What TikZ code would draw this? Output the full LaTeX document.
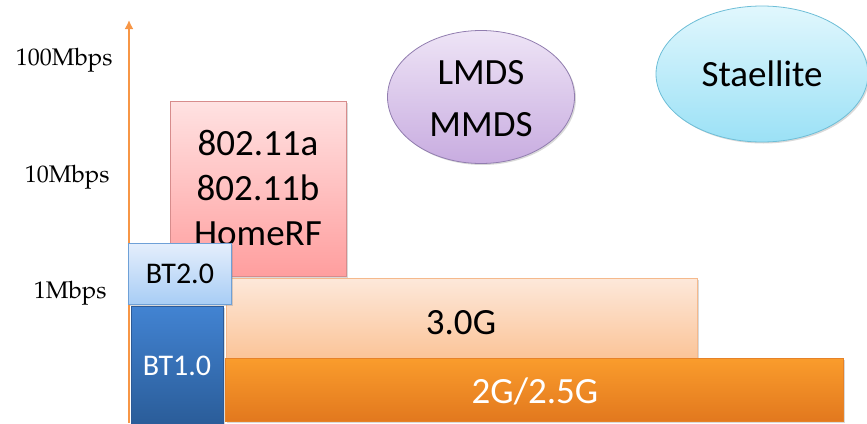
\documentclass[tikz,border=0pt]{standalone}
\usepackage{fontspec}
\setmainfont{TeX Gyre Pagella}
\newfontfamily\calfont{Carlito}
\usetikzlibrary{shapes.geometric,shadows,arrows.meta}
\begin{document}
\begin{tikzpicture}[x=1pt,y=-1pt,
  blk/.style={draw, line width=0.8pt, inner sep=0pt, anchor=north west},
  ell/.style={ellipse, draw, line width=0.8pt, inner sep=0pt, align=center},
  big/.style={font=\calfont\fontsize{37}{45}\selectfont},
  bt/.style={font=\calfont\fontsize{30}{36}\selectfont},
  lbl/.style={anchor=east, font=\fontsize{24}{28}\selectfont},
  shd/.style={drop shadow={shadow xshift=1.5pt,shadow yshift=-1.5pt,opacity=0.3}}]
\useasboundingbox (0,0) rectangle (867,423);
% axis
\coordinate (ax0) at (129,423);
\coordinate (ax1) at (129,20);
\draw[color={rgb,255:red,247;green,150;blue,70}, line width=2.6pt, -{Latex[length=9pt,width=9pt]}] (ax0) -- (ax1);
\node[lbl] (l100) at (116,60) {100Mbps};
\node[lbl] (l10) at (113,177) {10Mbps};
\node[lbl] (l1) at (110,293) {1Mbps};
% 802.11 box
\node[blk, shd, minimum width=176pt, minimum height=175pt, draw={rgb,255:red,215;green,140;blue,140},
  top color={rgb,255:red,255;green,226;blue,226}, bottom color={rgb,255:red,255;green,158;blue,158}] (wifi) at (170,101) {};
\node[big, align=center, font=\calfont\fontsize{37}{45}\selectfont] (wifit) at (258,188) {802.11a\\802.11b\\HomeRF};
% 3.0G box
\node[blk, shd, minimum width=471pt, minimum height=80pt, draw={rgb,255:red,245;green,185;blue,140},
  top color={rgb,255:red,253;green,232;blue,218}, bottom color={rgb,255:red,251;green,196;blue,152}] (g3) at (226,278) {};
\node[big] (g3t) at (461,323) {3.0G};
% 2G box
\node[blk, shd, minimum width=618pt, minimum height=63pt, draw={rgb,255:red,230;green,130;blue,40},
  top color={rgb,255:red,250;green,156;blue,44}, bottom color={rgb,255:red,226;green,120;blue,30}] (g2) at (225,358) {};
\node[big, text=white] (g2t) at (535,391) {2G/2.5G};
% BT1.0
\node[blk, shd, minimum width=92pt, minimum height=120pt, draw={rgb,255:red,45;green,90;blue,150},
  top color={rgb,255:red,66;green,131;blue,210}, bottom color={rgb,255:red,42;green,92;blue,152}] (bt1) at (131,306) {};
\node[bt, text=white] (bt1t) at (177,366) {BT1.0};
% BT2.0
\node[blk, shd, bt, minimum width=103pt, minimum height=61pt, draw={rgb,255:red,110;green,160;blue,215},
  top color={rgb,255:red,228;green,238;blue,252}, bottom color={rgb,255:red,168;green,205;blue,245}] (bt2) at (128,243) {BT2.0};
% ellipses
\node[ell, shd, minimum width=187pt, minimum height=133pt, draw={rgb,255:red,145;green,125;blue,175},
  top color={rgb,255:red,238;green,228;blue,246}, bottom color={rgb,255:red,200;green,172;blue,224}] (lmds) at (481,97) {};
\node[big, align=center, font=\calfont\fontsize{37}{52}\selectfont] (lmdst) at (481,99) {LMDS\\MMDS};
\node[ell, big, shd, minimum width=212pt, minimum height=136pt, draw={rgb,255:red,110;green,190;blue,215},
  top color={rgb,255:red,225;green,247;blue,253}, bottom color={rgb,255:red,155;green,225;blue,246}] (sat) at (762,74) {Staellite};
\end{tikzpicture}
\end{document}
